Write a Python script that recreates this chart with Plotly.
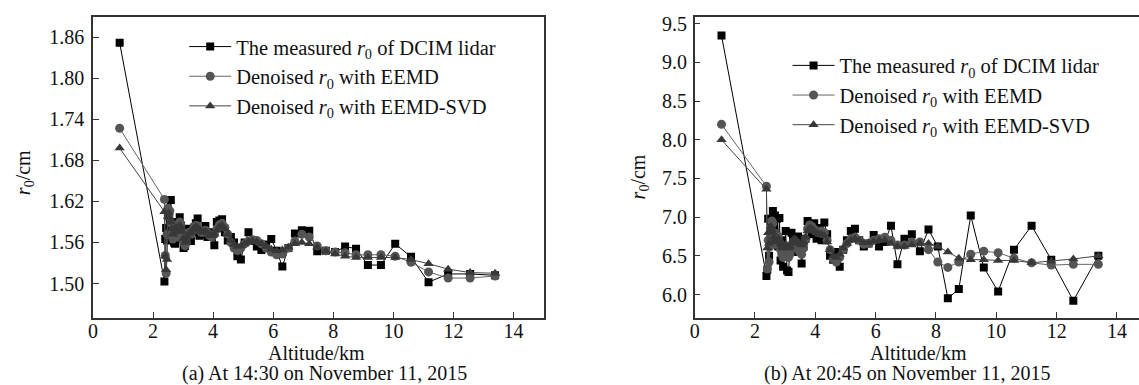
import plotly.graph_objects as go

# Altitude grid (km), shared by both panels
altitude = [0.89, 2.380, 2.408, 2.437, 2.467, 2.497, 2.528, 2.560, 2.593, 2.627, 2.661,
            2.697, 2.733, 2.770, 2.809, 2.848, 2.889, 2.931, 2.974, 3.018, 3.064,
            3.111, 3.159, 3.209, 3.261, 3.314, 3.369, 3.426, 3.485, 3.546, 3.609,
            3.675, 3.743, 3.813, 3.886, 3.962, 4.041, 4.124, 4.209, 4.299, 4.392,
            4.489, 4.591, 4.697, 4.808, 4.925, 5.048, 5.177, 5.313, 5.456, 5.607,
            5.766, 5.935, 6.114, 6.304, 6.507, 6.723, 6.954, 7.200, 7.466, 7.751,
            8.060, 8.393, 8.757, 9.152, 9.585, 10.060, 10.586, 11.170, 11.822, 12.553, 13.383]

# Panel (a) 14:30
measured_a = [1.852, 1.503, 1.565, 1.581, 1.563, 1.600, 1.575, 1.590, 1.622, 1.585, 1.575,
              1.560, 1.558, 1.578, 1.590, 1.578, 1.597, 1.585, 1.565, 1.552, 1.555,
              1.570, 1.580, 1.575, 1.562, 1.575, 1.582, 1.588, 1.595, 1.570, 1.575,
              1.572, 1.584, 1.568, 1.575, 1.568, 1.556, 1.590, 1.592, 1.594, 1.575,
              1.563, 1.568, 1.560, 1.540, 1.535, 1.560, 1.575, 1.562, 1.554, 1.549,
              1.557, 1.565, 1.548, 1.525, 1.552, 1.573, 1.578, 1.577, 1.547, 1.548,
              1.546, 1.554, 1.551, 1.527, 1.527, 1.558, 1.539, 1.502, 1.514, 1.514, 1.512]
eemd_a = [1.727, 1.623, 1.541, 1.515, 1.572, 1.610, 1.598, 1.606, 1.588, 1.570, 1.565,
          1.578, 1.585, 1.575, 1.568, 1.580, 1.590, 1.585, 1.575, 1.560, 1.555,
          1.560, 1.570, 1.575, 1.572, 1.578, 1.583, 1.585, 1.584, 1.578, 1.575,
          1.575, 1.578, 1.574, 1.570, 1.568, 1.572, 1.580, 1.586, 1.588, 1.582,
          1.572, 1.560, 1.552, 1.548, 1.552, 1.558, 1.562, 1.564, 1.563, 1.558,
          1.552, 1.546, 1.542, 1.543, 1.552, 1.562, 1.572, 1.568, 1.555, 1.548,
          1.546, 1.545, 1.542, 1.542, 1.542, 1.540, 1.531, 1.517, 1.508, 1.508, 1.511]
svd_a = [1.698, 1.605, 1.540, 1.520, 1.535, 1.598, 1.603, 1.596, 1.590, 1.580, 1.572,
         1.575, 1.580, 1.582, 1.578, 1.580, 1.585, 1.583, 1.576, 1.566, 1.560,
         1.562, 1.568, 1.573, 1.575, 1.578, 1.581, 1.583, 1.582, 1.579, 1.576,
         1.575, 1.576, 1.574, 1.571, 1.570, 1.572, 1.578, 1.583, 1.585, 1.580,
         1.572, 1.563, 1.557, 1.554, 1.555, 1.558, 1.561, 1.562, 1.561, 1.558,
         1.554, 1.550, 1.548, 1.549, 1.553, 1.558, 1.560, 1.558, 1.553, 1.547,
         1.543, 1.540, 1.538, 1.538, 1.538, 1.538, 1.535, 1.529, 1.521, 1.516, 1.515]

# Panel (b) 20:45
measured_b = [9.35, 6.24, 6.32, 6.98, 6.50, 6.70, 6.95, 6.85, 7.08, 6.90, 7.02,
              6.75, 6.98, 6.62, 6.99, 6.44, 6.70, 6.36, 6.55, 6.82, 6.31,
              6.29, 6.60, 6.80, 6.72, 6.55, 6.62, 6.75, 6.66, 6.40, 6.62,
              6.72, 6.95, 6.85, 6.78, 6.92, 6.72, 6.86, 6.70, 6.93, 6.78,
              6.50, 6.45, 6.55, 6.36, 6.58, 6.70, 6.82, 6.85, 6.70, 6.62,
              6.66, 6.77, 6.62, 6.68, 6.89, 6.39, 6.72, 6.78, 6.56, 6.84,
              6.62, 5.95, 6.07, 7.02, 6.35, 6.04, 6.58, 6.89, 6.45, 5.92, 6.50]
eemd_b = [8.20, 7.40, 6.33, 6.70, 6.42, 6.62, 6.85, 6.95, 6.92, 6.80, 6.72,
          6.65, 6.70, 6.75, 6.68, 6.58, 6.52, 6.48, 6.55, 6.62, 6.55,
          6.48, 6.52, 6.62, 6.68, 6.66, 6.60, 6.58, 6.55, 6.52, 6.60,
          6.72, 6.85, 6.90, 6.88, 6.84, 6.82, 6.80, 6.82, 6.80, 6.70,
          6.58, 6.46, 6.42, 6.48, 6.58, 6.66, 6.72, 6.74, 6.70, 6.65,
          6.66, 6.70, 6.72, 6.74, 6.70, 6.64, 6.64, 6.68, 6.68, 6.58,
          6.42, 6.35, 6.42, 6.52, 6.56, 6.54, 6.47, 6.41, 6.38, 6.39, 6.39]
svd_b = [8.00, 7.36, 6.60, 6.80, 6.66, 6.82, 6.88, 6.84, 6.80, 6.74, 6.70,
         6.68, 6.70, 6.72, 6.70, 6.65, 6.62, 6.60, 6.62, 6.65, 6.62,
         6.60, 6.62, 6.66, 6.70, 6.72, 6.70, 6.68, 6.66, 6.64, 6.68,
         6.74, 6.82, 6.86, 6.85, 6.82, 6.80, 6.78, 6.78, 6.76, 6.68,
         6.58, 6.50, 6.48, 6.52, 6.60, 6.66, 6.70, 6.72, 6.70, 6.67,
         6.67, 6.69, 6.70, 6.70, 6.66, 6.62, 6.62, 6.64, 6.66, 6.66,
         6.62, 6.55, 6.47, 6.45, 6.45, 6.44, 6.44, 6.41, 6.43, 6.46, 6.50]

x_ticks = [0, 2, 4, 6, 8, 10, 12, 14]
y_ticks_a = [1.50, 1.56, 1.62, 1.68, 1.74, 1.80, 1.86]
y_ticks_b = [6.0, 6.5, 7.0, 7.5, 8.0, 8.5, 9.0, 9.5]

names = ["The measured <i>r</i><sub>0</sub> of DCIM lidar",
         "Denoised <i>r</i><sub>0</sub> with EEMD",
         "Denoised <i>r</i><sub>0</sub> with EEMD-SVD"]
captions = ["(a) At 14:30 on November 11, 2015", "(b) At 20:45 on November 11, 2015"]

FONT = "Liberation Serif"
W, H = 1139, 385

styles = [
    dict(symbol="square", color="#000000", line="#000000", size=8),
    dict(symbol="circle", color="#555555", line="#666666", size=9),
    dict(symbol="triangle-up", color="#383838", line="#444444", size=9),
]

fig = go.Figure()
panels = [
    ([measured_a, eemd_a, svd_a], "x", "y", "legend"),
    ([measured_b, eemd_b, svd_b], "x2", "y2", "legend2"),
]
for series, xa, ya, lg in panels:
    for name, vals, st in zip(names, series, styles):
        fig.add_trace(go.Scatter(
            x=altitude, y=vals, mode="lines+markers", name=name,
            xaxis=xa, yaxis=ya, legend=lg,
            line=dict(color=st["line"], width=1),
            marker=dict(symbol=st["symbol"], color=st["color"], size=st["size"], line=dict(width=0)),
        ))

axis_common = dict(showgrid=False, zeroline=False, showline=True, linecolor="#333333",
                   linewidth=1.5, ticks="inside", ticklen=6, tickwidth=1.3, tickcolor="#333333",
                   tickfont=dict(family=FONT, size=20, color="#111111"))

ya_dom = [(H - 317) / H, (H - 13.3) / H]
fig.update_layout(
    width=W, height=H, margin=dict(l=0, r=0, t=0, b=0),
    paper_bgcolor="white", plot_bgcolor="white",
    font=dict(family=FONT, color="#111111"),
    xaxis=dict(domain=[88.3 / W, 541 / W], range=[0, 15], tickvals=x_ticks, mirror=True,
               anchor="y", ticklabelstandoff=-5, **axis_common),
    yaxis=dict(domain=ya_dom, range=[1.45, 1.8895], tickvals=y_ticks_a,
               ticktext=[f"{v:.2f}" for v in y_ticks_a], mirror=True, anchor="x",
               ticklabelstandoff=3, **axis_common),
    xaxis2=dict(domain=[692.7 / W, 1.0], range=[0, 14.73], tickvals=x_ticks, mirror=True,
                anchor="y2", ticklabelstandoff=-5, **axis_common),
    yaxis2=dict(domain=ya_dom, range=[5.70, 9.586], tickvals=y_ticks_b,
                ticktext=[f"{v:.1f}" for v in y_ticks_b], mirror=False, anchor="x2",
                ticklabelstandoff=2, **axis_common),
    legend=dict(x=180 / W, y=1 - 23 / H, xanchor="left", yanchor="top", bgcolor="rgba(0,0,0,0)",
                font=dict(family=FONT, size=20.5, color="#111111"), itemwidth=42, tracegroupgap=0),
    legend2=dict(x=786 / W, y=1 - 42 / H, xanchor="left", yanchor="top", bgcolor="rgba(0,0,0,0)",
                 font=dict(family=FONT, size=20.5, color="#111111"), itemwidth=42, tracegroupgap=0),
    showlegend=True,
)

annots = [
    dict(text="Altitude/km", x=313 / W, y=1 - 353 / H),
    dict(text=captions[0], x=321 / W, y=1 - 373 / H),
    dict(text="Altitude/km", x=918 / W, y=1 - 353 / H),
    dict(text=captions[1], x=906 / W, y=1 - 373 / H),
]
for a in annots:
    fig.add_annotation(xref="paper", yref="paper", xanchor="center", yanchor="middle",
                       showarrow=False, font=dict(family=FONT, size=20, color="#111111"), **a)
for xc, yc in [(19, 170), (637, 175)]:
    fig.add_annotation(xref="paper", yref="paper", x=xc / W, y=1 - yc / H, xanchor="center",
                       yanchor="middle", showarrow=False, textangle=-90,
                       text="<i>r</i><sub>0</sub>/cm", font=dict(family=FONT, size=20, color="#111111"))

fig.write_html("out.html")
